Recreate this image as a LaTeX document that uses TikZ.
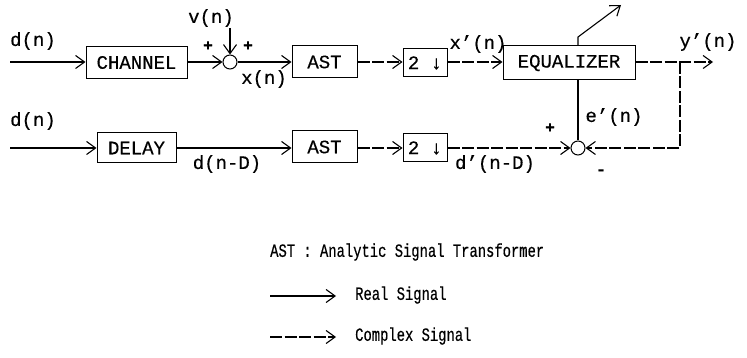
\documentclass[tikz,border=0pt]{standalone}
\usepackage{fontspec}
\setmainfont[FakeBold=0.4]{Liberation Mono}
\newfontfamily\legf[FakeStretch=0.74,FakeBold=0.4]{Liberation Mono}
\usetikzlibrary{arrows.meta}
\begin{document}
\begin{tikzpicture}[x=1pt,y=-1pt,
  font=\fontsize{19}{19}\selectfont,
  blk/.style={draw, line width=1pt, minimum height=32pt, inner sep=0pt},
  sumc/.style={draw, circle, line width=1pt, minimum size=14pt, inner sep=0pt},
  lbl/.style={inner sep=0pt},
  legfont/.style={font=\legf\fontsize{18.7}{18.7}\selectfont},
  sig/.style={line width=1.1pt, -{Straight Barb[length=9pt,width=13pt,line width=1.1pt]}},
  real/.style={sig},
  cplx/.style={sig, dash pattern=on 12pt off 2.5pt},
  pm/.style={inner sep=0pt, font=\fontsize{16}{16}\selectfont\bfseries}
]
\useasboundingbox (0,0) rectangle (747,358);
% blocks
\node[blk, minimum width=101pt] (ch) at (136.5,62.5) {CHANNEL};
\node[sumc] (s1) at (230,62) {};
\node[blk, minimum width=65pt] (ast1) at (324.5,62) {AST};
\node[blk, minimum width=44pt, minimum height=28pt] (dn1) at (425,63) {2 ↓};
\node[blk, minimum width=132pt, minimum height=34pt] (eq) at (569,63) {EQUALIZER};
\node[blk, minimum width=79pt, minimum height=30pt] (dl) at (136.5,148) {DELAY};
\node[blk, minimum width=65pt] (ast2) at (324.5,147) {AST};
\node[blk, minimum width=44pt, minimum height=28pt] (dn2) at (425,148) {2 ↓};
\node[sumc] (s2) at (578,148) {};
% free ends
\coordinate (in1) at (10,62);
\coordinate (in2) at (10,148);
\coordinate (vt) at (230,28);
\coordinate (out) at (713,62);
\coordinate (tap) at (680,62);
\coordinate (fb) at (680,148);
\coordinate (ad1) at (578,37);
\coordinate (ad2) at (621,5);
% connectors
\draw[real] (in1) -- (ch.west |- in1);
\draw[real] (ch.east |- s1) -- (s1);
\draw[real] (vt) -- (s1);
\draw[real] (s1) -- (ast1.west |- s1);
\draw[cplx] (ast1.east |- s1) -- (dn1.west |- s1);
\draw[cplx] (dn1.east |- s1) -- (eq.west |- s1);
\draw[cplx] (eq.east |- s1) -- (out);
\draw[cplx] (tap) -- (fb) -- (s2);
\draw[real] (in2) -- (dl.west |- in2);
\draw[real] (dl.east |- in2) -- (ast2.west |- in2);
\draw[cplx] (ast2.east |- in2) -- (dn2.west |- in2);
\draw[cplx] (dn2.east |- s2) -- (s2);
\draw[line width=1.1pt] (eq.south -| s2) -- (s2);
\draw[real] (eq.north -| ad1) -- (ad1) -- (ad2);
% labels
\node[lbl] (ldn1) at (33,41) {d(n)};
\node[lbl] (lvn) at (211,18) {v(n)};
\node[pm] (p1) at (208,46) {+};
\node[pm] (p2) at (248,46) {+};
\node[lbl] (lxn) at (264,79) {x(n)};
\node[lbl] (lxpn) at (478,44) {x'(n)};
\node[lbl] (lypn) at (708,42) {y'(n)};
\node[lbl] (lepn) at (614,117) {e'(n)};
\node[pm] (p3) at (550,128) {+};
\node[pm] (m1) at (601,172) {-};
\node[lbl] (ldn2) at (33,121) {d(n)};
\node[lbl] (ldnd) at (227,164) {d(n-D)};
\node[lbl] (ldpnd) at (495,164) {d'(n-D)};
% legend
\node[lbl, legfont, anchor=west] (leg) at (270,252) {AST : Analytic Signal Transformer};
\coordinate (r0) at (270,296);
\coordinate (r1) at (336,296);
\coordinate (c0) at (270,337);
\coordinate (c1) at (336,337);
\draw[real] (r0) -- (r1);
\draw[cplx] (c0) -- (c1);
\node[lbl, legfont, anchor=west] (lreal) at (355,295) {Real Signal};
\node[lbl, legfont, anchor=west] (lcplx) at (355,336) {Complex Signal};
\end{tikzpicture}
\end{document}
